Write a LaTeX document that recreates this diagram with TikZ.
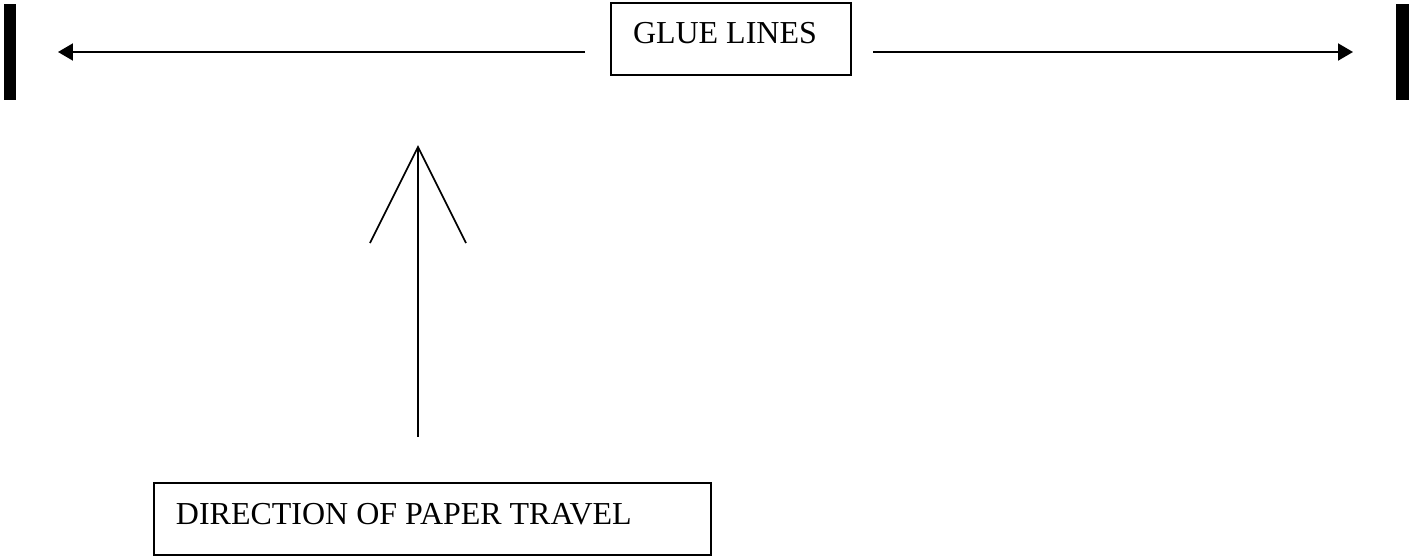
\documentclass[tikz,border=0pt]{standalone}
\usepackage{fontspec}
\setmainfont{Liberation Serif}
\usetikzlibrary{positioning}
\usetikzlibrary{arrows.meta}

\tikzset{
  labelbox/.style={draw, line width=0.04cm, minimum height=1.44cm, inner xsep=0.44cm, inner ysep=0pt, align=flush left, anchor=west, font=\fontsize{18.2}{22}\selectfont},
  gluearrow/.style={line width=0.04cm, -{Triangle[length=0.3cm,width=0.34cm]}},
  travelline/.style={line width=0.035cm}
}

\begin{document}
\begin{tikzpicture}[x=0.02cm, y=-0.02cm]
\useasboundingbox (0,0) rectangle (1409,558);

% edge bars
\fill (4,4) rectangle (16,100);
\fill (1396,4) rectangle (1409,100);

% glue lines box and its arrows
\node[labelbox, text width=3.92cm, text height=0.42cm, text depth=0.24cm] (glue) at (610,39) {GLUE LINES};
\coordinate (lstart) at (585,52);
\coordinate (ltip) at (58,52);
\coordinate (rstart) at (873,52);
\coordinate (rtip) at (1353,52);
\draw[gluearrow] (lstart) -- (ltip);
\draw[gluearrow] (rstart) -- (rtip);

% paper travel arrow
\coordinate (apex) at (418,147);
\coordinate (lleg) at (370,243);
\coordinate (rleg) at (466,243);
\coordinate (tail) at (418,437);
\draw[travelline] (lleg) -- (apex) -- (rleg);
\draw[travelline] (apex) -- (tail);

\node[labelbox, text width=10.26cm, text height=0.42cm, text depth=0.2cm] (travel) at (153,519) {DIRECTION OF PAPER TRAVEL};
\end{tikzpicture}
\end{document}
